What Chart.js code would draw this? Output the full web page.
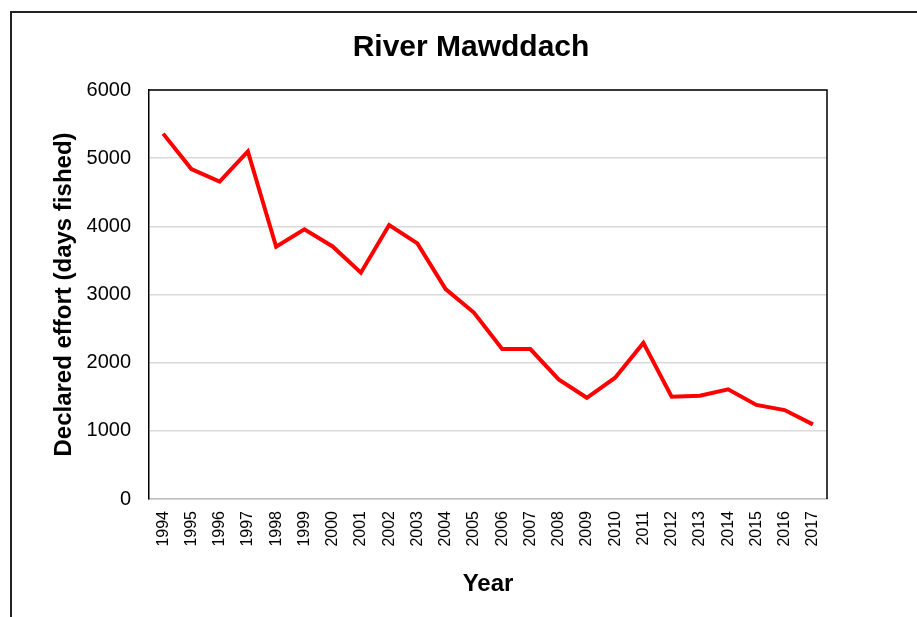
<!DOCTYPE html>
<html lang="en">

<head>
    <meta charset="UTF-8" />
    <title>River Mawddach</title>
    <script src="https://cdn.jsdelivr.net/npm/chart.js"></script>
    <style>
        html, body { margin: 0; padding: 0; background: #fff; overflow: hidden; }
        #wrap { width: 917px; height: 617px; }
    </style>
</head>

<body>
    <div id="wrap"><canvas id="effortChart" width="917" height="617"></canvas></div>

    <script>
        const years = ['1994', '1995', '1996', '1997', '1998', '1999', '2000', '2001', '2002', '2003', '2004', '2005',
            '2006', '2007', '2008', '2009', '2010', '2011', '2012', '2013', '2014', '2015', '2016', '2017'];
        const effort = [5360, 4840, 4655, 5100, 3700, 3955, 3705, 3320, 4020, 3750, 3080, 2735,
            2200, 2200, 1755, 1485, 1780, 2290, 1500, 1515, 1610, 1380, 1305, 1095];
        const yTicks = [0, 1000, 2000, 3000, 4000, 5000, 6000];

        const font = "'Liberation Sans', Arial, sans-serif";
        const chartTitle = 'River Mawddach';

        // outer chart frame, top/right edges of the plot box, and the title
        const frames = {
            id: 'frames',
            afterDraw(chart) {
                const ctx = chart.ctx;
                const a = chart.chartArea;
                ctx.save();
                ctx.strokeStyle = '#000';
                ctx.lineWidth = 1.5;
                ctx.beginPath();
                ctx.moveTo(a.left, a.top);
                ctx.lineTo(a.right, a.top);
                ctx.lineTo(a.right, a.bottom);
                ctx.stroke();
                ctx.strokeStyle = '#222';
                ctx.lineWidth = 2;
                ctx.beginPath();
                ctx.moveTo(11, chart.height);
                ctx.lineTo(11, 12);
                ctx.lineTo(chart.width, 12);
                ctx.stroke();
                ctx.fillStyle = '#000';
                ctx.font = 'bold 30px ' + font;
                ctx.textAlign = 'center';
                ctx.textBaseline = 'middle';
                ctx.fillText(chartTitle, 471, 48);
                ctx.restore();
            }
        };

        new Chart(document.getElementById('effortChart'), {
            type: 'line',
            data: {
                labels: years,
                datasets: [{
                    data: effort,
                    borderColor: '#ff0000',
                    borderWidth: 4,
                    pointRadius: 0,
                    tension: 0,
                    fill: false,
                }],
            },
            options: {
                responsive: false,
                animation: false,
                layout: { padding: { top: 90, left: 40, right: 90, bottom: 12 } },
                plugins: {
                    legend: { display: false },
                    tooltip: { enabled: false },
                    title: { display: false },
                },
                scales: {
                    x: {
                        offset: true,
                        grid: { display: false, drawTicks: false },
                        border: { color: '#bfbfbf', width: 1.5 },
                        ticks: {
                            color: '#000',
                            font: { family: font, size: 16 },
                            maxRotation: 90,
                            minRotation: 90,
                            autoSkip: false,
                            padding: 12,
                        },
                        title: {
                            display: true,
                            text: 'Year',
                            color: '#000',
                            font: { family: font, size: 24, weight: 'bold' },
                            padding: { top: 0, bottom: 6 },
                        },
                        afterFit(scale) { scale.height = 106; },
                    },
                    y: {
                        min: 0,
                        max: 6000,
                        afterBuildTicks(scale) { scale.ticks = yTicks.map(v => ({ value: v })); },
                        grid: { color: '#d9d9d9', lineWidth: 1.5, drawTicks: false },
                        border: { color: '#000', width: 1.5 },
                        ticks: {
                            color: '#000',
                            font: { family: font, size: 20 },
                            padding: 18,
                            callback: v => String(v),
                        },
                        title: {
                            display: true,
                            text: 'Declared effort (days fished)',
                            color: '#000',
                            font: { family: font, size: 24, weight: 'bold' },
                            padding: { top: 10, bottom: 0 },
                        },
                        afterFit(scale) { scale.width = 109; },
                    },
                },
            },
            plugins: [frames],
        });
    </script>
</body>

</html>
